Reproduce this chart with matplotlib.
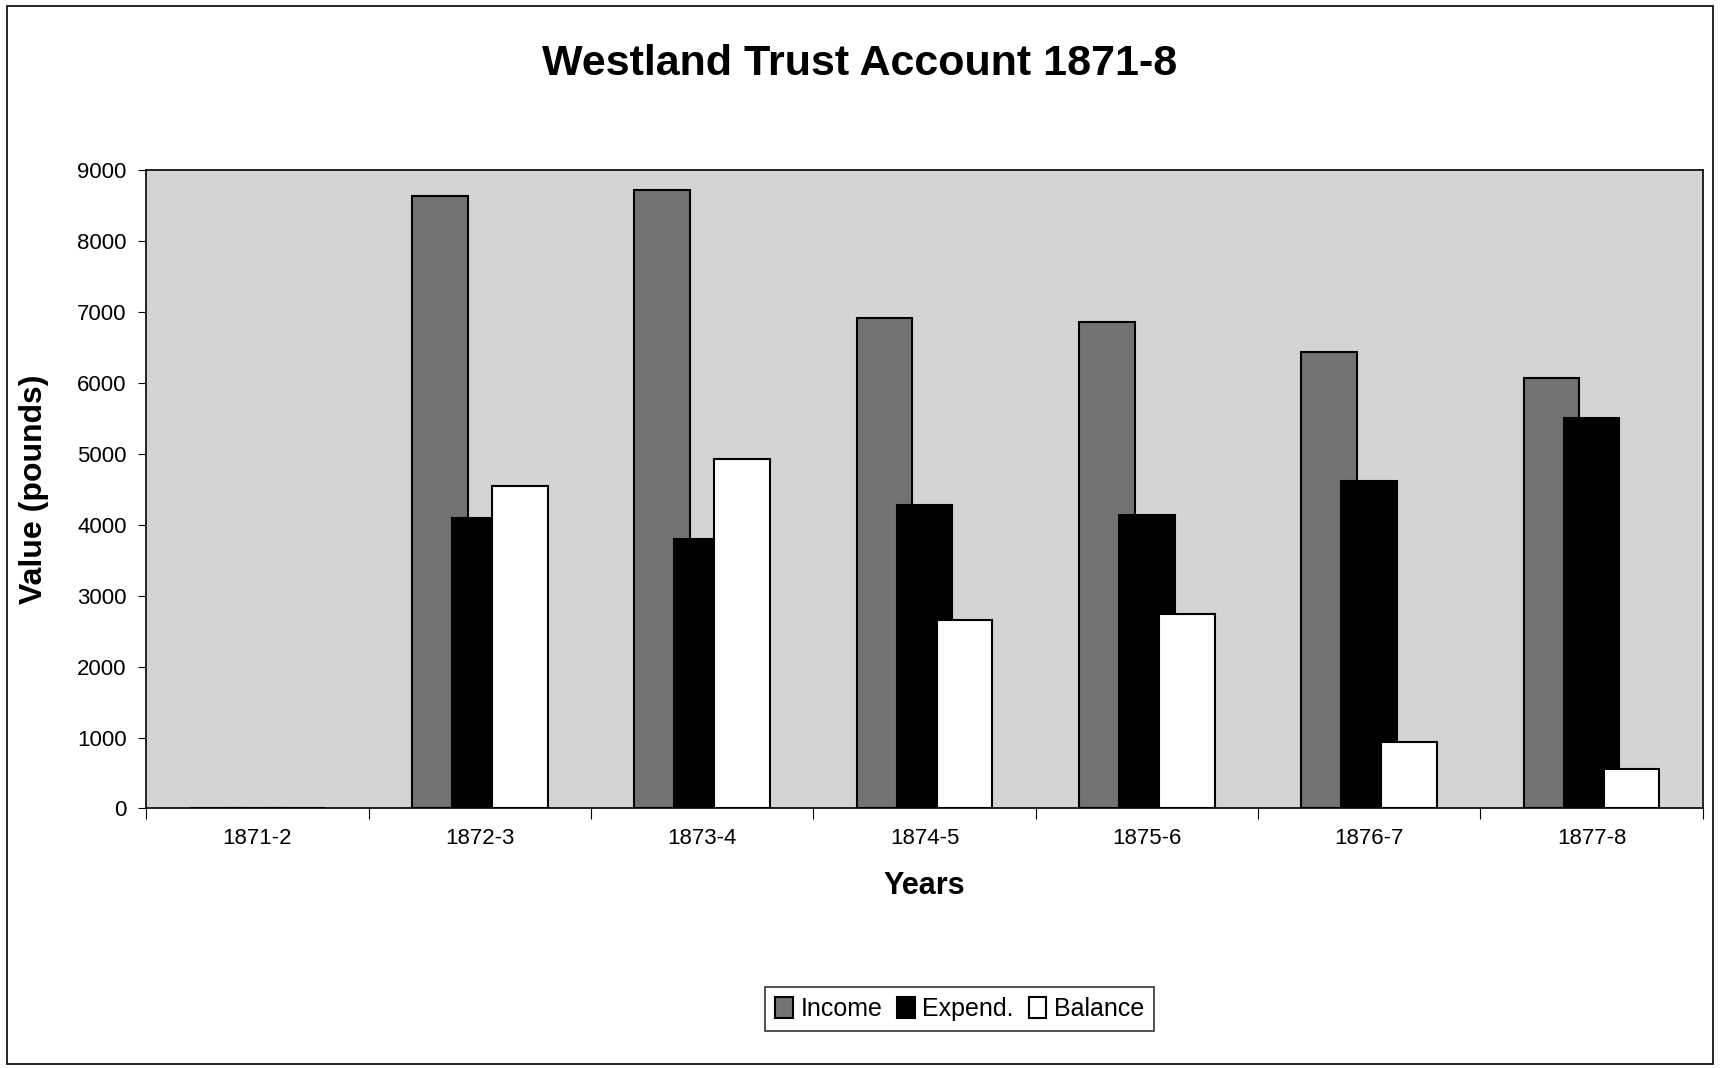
import matplotlib.pyplot as plt
import numpy as np
from matplotlib.patches import Rectangle

years = ['1871-2', '1872-3', '1873-4', '1874-5', '1875-6', '1876-7', '1877-8']
income = [0, 8630, 8720, 6910, 6860, 6430, 6060]
expend = [0, 4100, 3800, 4280, 4130, 4610, 5500]
balance = [0, 4540, 4920, 2660, 2740, 930, 560]

plt.rcParams['font.family'] = ['Liberation Sans', 'DejaVu Sans']

fig = plt.figure(figsize=(17.2, 10.68), dpi=100)
ax = fig.add_axes([0.085, 0.243, 0.905, 0.598])

x = np.arange(len(years))
w = 0.25
step = 0.18
ax.set_facecolor('#d4d4d4')
ax.bar(x - step, income, w, color='#727272', edgecolor='black', linewidth=1.5, label='Income')
ax.bar(x, expend, w, color='black', edgecolor='black', linewidth=1.5, label='Expend.')
ax.bar(x + step, balance, w, color='white', edgecolor='black', linewidth=1.5, label='Balance')

ax.set_xlim(-0.5, len(years) - 0.5)
ax.set_ylim(0, 9000)
ax.set_yticks(np.arange(0, 9001, 1000))
ax.tick_params(axis='y', labelsize=16, direction='out', length=6, pad=8)

# ticks between categories, labels at category centres
ax.set_xticks(np.arange(-0.5, len(years), 1))
ax.set_xticklabels([])
ax.tick_params(axis='x', which='major', direction='out', length=8)
ax.set_xticks(x, minor=True)
ax.set_xticklabels(years, minor=True)
ax.tick_params(axis='x', which='minor', length=0, labelsize=16, pad=14)

for s in ax.spines.values():
    s.set_linewidth(1.2)

ax.set_xlabel('Years', fontsize=22, fontweight='bold', labelpad=16)
ax.set_ylabel('Value (pounds)', fontsize=23, fontweight='bold', labelpad=20)
fig.text(0.5, 0.94, 'Westland Trust Account 1871-8', fontsize=31, fontweight='bold',
         ha='center', va='center')

leg = fig.legend(loc='center', bbox_to_anchor=(0.558, 0.055), ncol=3, fontsize=18,
                 frameon=True, fancybox=False, edgecolor='black', handlelength=0.7,
                 handleheight=0.9, handletextpad=0.3, columnspacing=0.6, borderpad=0.4)
leg.get_frame().set_linewidth(1.2)

fig.patches.append(Rectangle((0.004, 0.004), 0.992, 0.99, transform=fig.transFigure,
                             fill=False, edgecolor='black', linewidth=1.2))

fig.savefig('out.png', dpi=100)
